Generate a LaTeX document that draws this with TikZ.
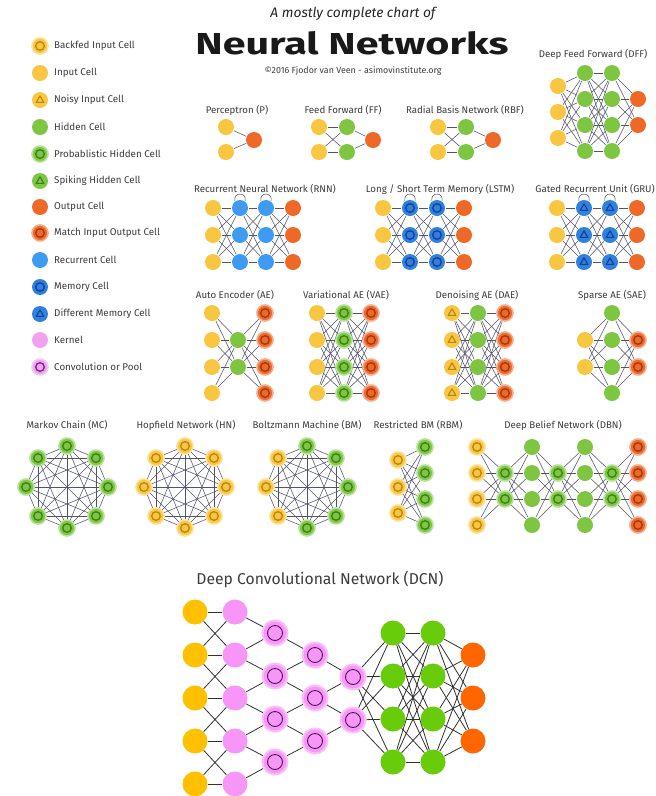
\documentclass[tikz,border=0pt]{standalone}
\usepackage{fontspec}
\setmainfont{Fira Sans}
\usepackage{graphicx}
\pgfdeclarelayer{back}
\pgfdeclarelayer{edges}
\pgfsetlayers{back,edges,main}

\definecolor{cIn}{RGB}{248,198,64}
\definecolor{cInD}{RGB}{185,135,15}
\definecolor{cHid}{RGB}{126,198,66}
\definecolor{cHidD}{RGB}{55,130,25}
\definecolor{cOut}{RGB}{238,104,40}
\definecolor{cOutD}{RGB}{160,55,15}
\definecolor{cRec}{RGB}{62,155,242}
\definecolor{cMem}{RGB}{48,128,222}
\definecolor{cMemD}{RGB}{18,64,150}
\definecolor{cKer}{RGB}{242,162,240}
\definecolor{cConvD}{RGB}{120,40,135}
\definecolor{cLine}{RGB}{82,84,108}
\definecolor{cText}{RGB}{60,60,60}
\definecolor{dIn}{RGB}{255,192,0}
\definecolor{dKer}{RGB}{248,150,248}
\definecolor{dKerL}{RGB}{250,190,250}
\definecolor{dConvD}{RGB}{70,20,80}
\definecolor{dHid}{RGB}{104,204,10}
\definecolor{dOut}{RGB}{255,102,0}
\definecolor{dLine}{RGB}{50,50,50}

\tikzset{
  cell/.style={circle, inner sep=0pt, minimum size=16pt, draw=none, line width=1.6pt},
  incell/.style={cell, fill=cIn},
  hidcell/.style={cell, fill=cHid},
  outcell/.style={cell, fill=cOut},
  reccell/.style={cell, fill=cRec},
  kercell/.style={cell, fill=cKer},
  ringin/.style={path picture={\draw[#1, line width=1.3pt] (path picture bounding box.center) circle (4.3pt);}},
  triin/.style={path picture={\draw[#1, line width=1.1pt, line join=round]
      ([shift={(0pt,4.2pt)}]path picture bounding box.center) --
      ([shift={(3.8pt,-2.4pt)}]path picture bounding box.center) --
      ([shift={(-3.8pt,-2.4pt)}]path picture bounding box.center) -- cycle;}},
  bfcell/.style={incell, draw=cIn!55!white, ringin=cInD},
  noisycell/.style={incell, triin=cInD},
  probcell/.style={hidcell, draw=cHid!55!white, ringin=cHidD},
  spikecell/.style={hidcell, triin=cHidD},
  matchcell/.style={outcell, draw=cOut!55!white, ringin=cOutD},
  memcell/.style={cell, fill=cMem, ringin=cMemD},
  dmemcell/.style={cell, fill=cMem, triin=cMemD},
  convcell/.style={kercell, draw=cKer!60!white, ringin=cConvD},
  bigcell/.style={circle, inner sep=0pt, minimum size=25pt, draw=none},
  dincell/.style={bigcell, fill=dIn},
  dkercell/.style={bigcell, fill=dKer},
  dconvcell/.style={bigcell, fill=dKer, draw=dKerL, line width=2pt,
      path picture={\draw[dConvD, line width=0.9pt] (path picture bounding box.center) circle (7.5pt);}},
  dhidcell/.style={bigcell, fill=dHid},
  doutcell/.style={bigcell, fill=dOut},
  conn/.style={draw=cLine, line width=0.55pt},
  dconn/.style={draw=dLine, line width=0.8pt},
  lbl/.style={text=cText, font=\fontsize{9.7}{11}\selectfont, inner sep=0pt},
  leg/.style={text=cText, font=\fontsize{9.8}{11}\selectfont, anchor=west, inner sep=0pt},
}

\newcommand\nodecol[4]{\foreach \yy [count=\kk] in {#4}{\node[#1] (#2\kk) at (#3,\yy) {};}}
\newcommand\fullconn[5][conn]{\foreach \ii in {1,...,#3}{\foreach \jj in {1,...,#5}{\draw[#1] (#2\ii) -- (#4\jj);}}}
\newcommand\completegraph[1]{\foreach \ii in {1,...,7}{\pgfmathtruncatemacro\nx{\ii+1}\foreach \jj in {\nx,...,8}{\draw[conn] (#1\ii) -- (#1\jj);}}}
\newcommand\octo[4]{\foreach \st [count=\kk] in {#4}{\pgfmathsetmacro\ang{(\kk-1)*45}\node[\st] (#1\kk) at ({#2+41*cos(\ang)},{#3+41*sin(\ang)}) {};}}
\newcommand\selfloop[1]{\draw[conn] (#1.125) .. controls +(-2,-9) and +(2,-9) .. (#1.55);}

\begin{document}
\begin{tikzpicture}[x=1pt,y=-1pt]
\begin{pgfonlayer}{back}
\fill[white] (0,0) rectangle (656,796);
\end{pgfonlayer}
\useasboundingbox (0,0) rectangle (656,796);

% ---------- legend ----------
\foreach \st/\txt/\yy [count=\kk] in {
  bfcell/Backfed Input Cell/46, incell/Input Cell/73, noisycell/Noisy Input Cell/100,
  hidcell/Hidden Cell/127, probcell/Probablistic Hidden Cell/154, spikecell/Spiking Hidden Cell/181,
  outcell/Output Cell/207, matchcell/Match Input Output Cell/233, reccell/Recurrent Cell/260,
  memcell/Memory Cell/287, dmemcell/Different Memory Cell/314, kercell/Kernel/340,
  convcell/Convolution or Pool/367}{
  \node[\st] (L\kk) at (40,\yy) {};
  \node[leg] (LT\kk) at (54,\yy) {\txt};
}

% ---------- title ----------
\node[anchor=base, inner sep=0pt, text=black!85] (T1) at (353,17) {\resizebox{165pt}{!}{\itshape A mostly complete chart of}};
\node[anchor=base, inner sep=0pt, text=black!90] (T2) at (352,54) {\resizebox{313pt}{23pt}{\bfseries Neural Networks}};
\node[anchor=base, inner sep=0pt, text=cText] (T3) at (353,73) {\resizebox{177pt}{!}{©2016 Fjodor van Veen - asimovinstitute.org}};

% ---------- labels ----------
\node[lbl] (lP) at (237,110) {Perceptron (P)};
\node[lbl] (lFF) at (343,110) {Feed Forward (FF)};
\node[lbl] (lRBF) at (465,110) {Radial Basis Network (RBF)};
\node[lbl] (lDFF) at (593,54) {Deep Feed Forward (DFF)};
\node[lbl] (lRNN) at (265,189) {Recurrent Neural Network (RNN)};
\node[lbl] (lLSTM) at (440,189) {Long / Short Term Memory (LSTM)};
\node[lbl, anchor=east] (lGRU) at (655,189) {Gated Recurrent Unit (GRU)};
\node[lbl] (lAE) at (235,295) {Auto Encoder (AE)};
\node[lbl] (lVAE) at (346,295) {Variational AE (VAE)};
\node[lbl] (lDAE) at (477,295) {Denoising AE (DAE)};
\node[lbl] (lSAE) at (612,295) {Sparse AE (SAE)};
\node[lbl] (lMC) at (67,425) {Markov Chain (MC)};
\node[lbl] (lHN) at (186,425) {Hopfield Network (HN)};
\node[lbl] (lBM) at (307,425) {Boltzmann Machine (BM)};
\node[lbl] (lRBM) at (418,425) {Restricted BM (RBM)};
\node[lbl] (lDBN) at (563,425) {Deep Belief Network (DBN)};
\node[text=cText, font=\fontsize{15.7}{18}\selectfont, inner sep=0pt] (lDCN) at (320,580) {Deep Convolutional Network (DCN)};

% ---------- row 1 ----------
\nodecol{incell}{P-a}{226}{127,152}
\nodecol{outcell}{P-b}{254}{140}
\nodecol{incell}{FF-a}{319}{127,152}
\nodecol{hidcell}{FF-b}{347}{127,152}
\nodecol{outcell}{FF-c}{373}{140}
\nodecol{incell}{RB-a}{438}{127,152}
\nodecol{hidcell}{RB-b}{466}{127,152}
\nodecol{outcell}{RB-c}{493}{140}
\nodecol{incell}{DF-a}{558}{86,112,138}
\nodecol{hidcell}{DF-b}{585}{73,99,125,151}
\nodecol{hidcell}{DF-c}{612}{73,99,125,151}
\nodecol{outcell}{DF-d}{638}{99,125}

% ---------- row 2 ----------
\nodecol{incell}{R-a}{213}{208,235,262}
\nodecol{reccell}{R-b}{240}{208,235,262}
\nodecol{reccell}{R-c}{266}{208,235,262}
\nodecol{outcell}{R-d}{293}{208,235,262}
\nodecol{incell}{LS-a}{383}{208,235,262}
\nodecol{memcell}{LS-b}{410}{208,235,262}
\nodecol{memcell}{LS-c}{437}{208,235,262}
\nodecol{outcell}{LS-d}{464}{208,235,262}
\nodecol{incell}{G-a}{557}{208,235,262}
\nodecol{dmemcell}{G-b}{584}{208,235,262}
\nodecol{dmemcell}{G-c}{610}{208,235,262}
\nodecol{outcell}{G-d}{637}{208,235,262}

% ---------- row 3 ----------
\nodecol{incell}{AE-a}{212}{313,340,367,393}
\nodecol{hidcell}{AE-b}{238}{340,367}
\nodecol{matchcell}{AE-c}{265}{313,340,367,393}
\nodecol{incell}{VA-a}{317}{313,340,367,393}
\nodecol{probcell}{VA-b}{344}{313,340,367,393}
\nodecol{matchcell}{VA-c}{371}{313,340,367,393}
\nodecol{noisycell}{DA-a}{452}{313,340,367,393}
\nodecol{hidcell}{DA-b}{478}{313,340,367,393}
\nodecol{matchcell}{DA-c}{505}{313,340,367,393}
\nodecol{incell}{SA-a}{585}{340,367}
\nodecol{hidcell}{SA-b}{612}{313,340,367,393}
\nodecol{matchcell}{SA-c}{638}{340,367}

% ---------- row 4 ----------
\octo{MC}{67}{487}{probcell,probcell,probcell,probcell,probcell,probcell,probcell,probcell}
\octo{HN}{185}{487}{bfcell,bfcell,bfcell,bfcell,bfcell,bfcell,bfcell,bfcell}
\octo{BM}{307}{487}{probcell,probcell,probcell,bfcell,bfcell,bfcell,probcell,probcell}
\nodecol{bfcell}{RBM-a}{398}{460,487,513}
\nodecol{probcell}{RBM-b}{425}{447,473,499,525}
\nodecol{bfcell}{DB-a}{477}{447,473,499,525}
\nodecol{probcell}{DB-b}{505}{473,499}
\nodecol{hidcell}{DB-c}{532}{447,473,499,525}
\nodecol{probcell}{DB-d}{558}{473,499}
\nodecol{hidcell}{DB-e}{585}{447,473,499,525}
\nodecol{probcell}{DB-f}{612}{473,499}
\nodecol{matchcell}{DB-g}{638}{447,473,499,525}

% ---------- DCN ----------
\nodecol{dincell}{D-a}{195}{612,655,698,741,784}
\nodecol{dkercell}{D-b}{235}{612,655,698,741,784}
\nodecol{dconvcell}{D-c}{275}{633,676,719,762}
\nodecol{dconvcell}{D-d}{315}{655,698,741}
\nodecol{dconvcell}{D-e}{353}{677,720}
\nodecol{dhidcell}{D-f}{393}{633,676,719,762}
\nodecol{dhidcell}{D-g}{433}{633,676,719,762}
\nodecol{doutcell}{D-h}{473}{655,698,741}

% ---------- connections ----------
\begin{pgfonlayer}{edges}
\fullconn{P-a}{2}{P-b}{1}
\fullconn{FF-a}{2}{FF-b}{2}
\fullconn{FF-b}{2}{FF-c}{1}
\fullconn{RB-a}{2}{RB-b}{2}
\fullconn{RB-b}{2}{RB-c}{1}
\fullconn{DF-a}{3}{DF-b}{4}
\fullconn{DF-b}{4}{DF-c}{4}
\fullconn{DF-c}{4}{DF-d}{2}
\foreach \pre in {R,LS,G}{
  \fullconn{\pre-a}{3}{\pre-b}{3}
  \fullconn{\pre-b}{3}{\pre-c}{3}
  \fullconn{\pre-c}{3}{\pre-d}{3}
  \selfloop{\pre-b1}
  \selfloop{\pre-c1}
}
\fullconn{AE-a}{4}{AE-b}{2}
\fullconn{AE-b}{2}{AE-c}{4}
\fullconn{VA-a}{4}{VA-b}{4}
\fullconn{VA-b}{4}{VA-c}{4}
\fullconn{DA-a}{4}{DA-b}{4}
\fullconn{DA-b}{4}{DA-c}{4}
\fullconn{SA-a}{2}{SA-b}{4}
\fullconn{SA-b}{4}{SA-c}{2}
\completegraph{MC}
\completegraph{HN}
\completegraph{BM}
\fullconn{RBM-a}{3}{RBM-b}{4}
\fullconn{DB-a}{4}{DB-b}{2}
\fullconn{DB-b}{2}{DB-c}{4}
\fullconn{DB-c}{4}{DB-d}{2}
\fullconn{DB-d}{2}{DB-e}{4}
\fullconn{DB-e}{4}{DB-f}{2}
\fullconn{DB-f}{2}{DB-g}{4}
% DCN
\foreach \i in {1,...,5}{\draw[dconn] (D-a\i) -- (D-b\i);}
\foreach \i in {1,...,4}{\pgfmathtruncatemacro\jn{\i+1}
  \draw[dconn] (D-a\i) -- (D-b\jn); \draw[dconn] (D-a\jn) -- (D-b\i);
  \draw[dconn] (D-b\i) -- (D-c\i); \draw[dconn] (D-b\jn) -- (D-c\i);}
\foreach \i in {1,...,3}{\pgfmathtruncatemacro\jn{\i+1}
  \draw[dconn] (D-c\i) -- (D-d\i); \draw[dconn] (D-c\jn) -- (D-d\i);}
\foreach \i in {1,2}{\pgfmathtruncatemacro\jn{\i+1}
  \draw[dconn] (D-d\i) -- (D-e\i); \draw[dconn] (D-d\jn) -- (D-e\i);}
\fullconn[dconn]{D-e}{2}{D-f}{4}
\fullconn[dconn]{D-f}{4}{D-g}{4}
\fullconn[dconn]{D-g}{4}{D-h}{3}
\end{pgfonlayer}
\end{tikzpicture}
\end{document}
